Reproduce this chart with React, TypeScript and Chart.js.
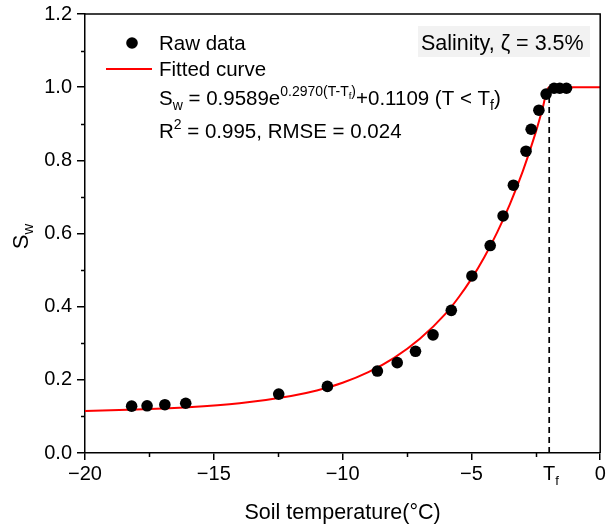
import React, { useEffect, useRef } from 'react';
import { Chart, registerables } from 'chart.js';
Chart.register(...registerables);

const FONT = '"Liberation Sans", Arial, Helvetica, sans-serif';

// Raw data (soil temperature °C, S_w)
const rawTemp = [-18.19, -17.59, -16.9, -16.09, -12.48, -10.59, -8.65, -7.88, -7.17, -6.49, -5.78, -4.98, -4.27, -3.77, -3.37, -2.88, -2.68, -2.38, -2.1, -1.79, -1.57, -1.31];
const rawSw = [0.128, 0.129, 0.132, 0.136, 0.161, 0.182, 0.224, 0.247, 0.278, 0.323, 0.39, 0.484, 0.567, 0.648, 0.732, 0.825, 0.885, 0.937, 0.981, 0.997, 0.997, 0.997];

// Fitted curve
const fitTemp = [-20, -18, -16, -14, -12, -11, -10, -9, -8, -7, -6, -5.5, -5, -4.5, -4, -3.5, -3, -2.5, -2.25, -2.0, -1.5, 0];
const fitSw = [0.115, 0.119, 0.125, 0.136, 0.156, 0.171, 0.192, 0.221, 0.26, 0.312, 0.381, 0.425, 0.476, 0.535, 0.603, 0.681, 0.771, 0.877, 0.938, 1.0, 1.0, 1.0];

const TF = -1.98;
const TF_TOP = 1.0;

const xMajor = [-20, -15, -10, -5, 0];
const xMinor = [-17.5, -12.5, -7.5, -2.5];
const yMajor = [0, 0.2, 0.4, 0.6, 0.8, 1.0, 1.2];
const yMinor = [0.1, 0.3, 0.5, 0.7, 0.9, 1.1];

const xTitle = 'Soil temperature(°C)';
const legendRaw = 'Raw data';
const legendFit = 'Fitted curve';
const salinityText = 'Salinity, ζ = 3.5%';

type Part = { t: string; size: number; dy: number };

function richWidth(ctx: CanvasRenderingContext2D, parts: Part[]) {
  let w = 0;
  for (const p of parts) {
    ctx.font = `${p.size}px ${FONT}`;
    w += ctx.measureText(p.t).width;
  }
  return w;
}

function drawRich(ctx: CanvasRenderingContext2D, parts: Part[], x: number, baseY: number) {
  let cx = x;
  ctx.textBaseline = 'alphabetic';
  ctx.textAlign = 'left';
  for (const p of parts) {
    ctx.font = `${p.size}px ${FONT}`;
    ctx.fillText(p.t, cx, baseY + p.dy);
    cx += ctx.measureText(p.t).width;
  }
  return cx;
}

const decorPlugin = {
  id: 'decor',
  afterDraw(chart: any) {
    const { ctx, chartArea: a, scales } = chart;
    const x = scales.x;
    const y = scales.y;
    ctx.save();
    ctx.strokeStyle = '#000';
    ctx.fillStyle = '#000';
    ctx.lineWidth = 1.5;
    // frame top & right
    ctx.beginPath();
    ctx.moveTo(a.left, a.top);
    ctx.lineTo(a.right, a.top);
    ctx.lineTo(a.right, a.bottom);
    ctx.stroke();
    // minor ticks
    ctx.beginPath();
    for (const v of xMinor) {
      const px = Math.round(x.getPixelForValue(v)) + 0.5;
      ctx.moveTo(px, a.bottom);
      ctx.lineTo(px, a.bottom + 4);
    }
    for (const v of yMinor) {
      const py = Math.round(y.getPixelForValue(v)) + 0.5;
      ctx.moveTo(a.left, py);
      ctx.lineTo(a.left - 4, py);
    }
    ctx.stroke();

    // T_f tick label
    const tfx = x.getPixelForValue(TF);
    const tfParts: Part[] = [
      { t: 'T', size: 20, dy: 0 },
      { t: 'f', size: 13, dy: 5 },
    ];
    const tw = richWidth(ctx, [tfParts[0]]);
    drawRich(ctx, tfParts, tfx - tw / 2, a.bottom + 27);

    // y title S_w
    ctx.save();
    ctx.translate(20, (a.top + a.bottom) / 2 + 3);
    ctx.rotate(-Math.PI / 2);
    const yt: Part[] = [
      { t: 'S', size: 22, dy: 0 },
      { t: 'w', size: 15, dy: 5 },
    ];
    const yw = richWidth(ctx, yt);
    drawRich(ctx, yt, -yw / 2, 8);
    ctx.restore();

    // legend
    ctx.beginPath();
    ctx.arc(132, 43, 5.8, 0, Math.PI * 2);
    ctx.fill();
    drawRich(ctx, [{ t: legendRaw, size: 20.5, dy: 0 }], 159, 43 + 7);
    ctx.strokeStyle = '#ff0000';
    ctx.lineWidth = 2;
    ctx.beginPath();
    ctx.moveTo(106, 69);
    ctx.lineTo(152, 69);
    ctx.stroke();
    drawRich(ctx, [{ t: legendFit, size: 20.5, dy: 0 }], 159, 69 + 7);

    const eq: Part[] = [
      { t: 'S', size: 20.5, dy: 0 },
      { t: 'w', size: 14, dy: 5 },
      { t: ' = 0.9589e', size: 20.5, dy: 0 },
      { t: '0.2970(T-T', size: 14, dy: -9 },
      { t: 'f', size: 9.5, dy: -6 },
      { t: ')', size: 14, dy: -9 },
      { t: '+0.1109 (T < T', size: 20.5, dy: 0 },
      { t: 'f', size: 14, dy: 5 },
      { t: ')', size: 20.5, dy: 0 },
    ];
    drawRich(ctx, eq, 159, 98 + 7);

    const r2: Part[] = [
      { t: 'R', size: 20.5, dy: 0 },
      { t: '2', size: 14, dy: -9 },
      { t: ' = 0.995, RMSE = 0.024', size: 20.5, dy: 0 },
    ];
    drawRich(ctx, r2, 159, 131 + 7);

    // salinity box
    ctx.fillStyle = '#f2f2f2';
    ctx.fillRect(418, 26, 172, 31);
    ctx.fillStyle = '#000';
    drawRich(ctx, [{ t: salinityText, size: 21.5, dy: 0 }], 421, 42 + 8);

    ctx.restore();
  },
};

export default function App() {
  const ref = useRef<HTMLCanvasElement>(null);
  useEffect(() => {
    const canvas = ref.current!;
    const chart = new Chart(canvas, {
      type: 'scatter',
      data: {
        datasets: [
          {
            label: legendRaw,
            data: rawTemp.map((t, i) => ({ x: t, y: rawSw[i] })),
            backgroundColor: '#000',
            borderColor: '#000',
            pointRadius: 5.8,
            pointBorderWidth: 0,
            showLine: false,
          },
          {
            label: 'Tf',
            data: [
              { x: TF, y: 0 },
              { x: TF, y: TF_TOP },
            ],
            showLine: true,
            borderColor: '#000',
            borderWidth: 1.7,
            borderDash: [6, 4],
            pointRadius: 0,
          },
          {
            label: legendFit,
            data: fitTemp.map((t, i) => ({ x: t, y: fitSw[i] })),
            showLine: true,
            borderColor: '#ff0000',
            borderWidth: 2,
            pointRadius: 0,
            cubicInterpolationMode: 'monotone',
          },
        ],
      } as any,
      options: {
        animation: false,
        responsive: false,
        maintainAspectRatio: false,
        layout: { padding: { top: 14, right: 3, left: 0, bottom: 0 } },
        plugins: { legend: { display: false }, tooltip: { enabled: false } },
        scales: {
          x: {
            type: 'linear',
            min: -20,
            max: 0,
            afterBuildTicks: (s: any) => {
              s.ticks = [...xMajor, TF].map((v) => ({ value: v }));
            },
            afterFit: (s: any) => {
              s.height = 75;
              s.paddingLeft = 0;
              s.paddingRight = 0;
            },
            ticks: {
              autoSkip: false,
              maxRotation: 0,
              padding: 2,
              color: '#000',
              font: { family: FONT, size: 20 },
              callback: (v: any) => {
                const n = Number(v);
                if (Math.abs(n - TF) < 1e-6) return '';
                return n < 0 ? '\u2212' + Math.abs(n) : String(n);
              },
            },
            grid: {
              drawOnChartArea: false,
              tickLength: 7,
              lineWidth: 1.5,
              tickColor: (c: any) => (c.tick && Math.abs(c.tick.value - TF) < 1e-6 ? 'rgba(0,0,0,0)' : '#000'),
              color: '#000',
            },
            border: { color: '#000', width: 1.5 },
            title: {
              display: true,
              text: xTitle,
              color: '#000',
              font: { family: FONT, size: 21.5 },
              padding: { top: 0, bottom: 2 },
            },
          },
          y: {
            type: 'linear',
            min: 0,
            max: 1.2,
            afterBuildTicks: (s: any) => {
              s.ticks = yMajor.map((v) => ({ value: v }));
            },
            afterFit: (s: any) => {
              s.width = 85;
              s.paddingTop = 0;
              s.paddingBottom = 0;
            },
            ticks: {
              padding: 5,
              color: '#000',
              font: { family: FONT, size: 20 },
              callback: (v: any) => Number(v).toFixed(1),
            },
            grid: {
              drawOnChartArea: false,
              tickLength: 8,
              lineWidth: 1.5,
              color: '#000',
            },
            border: { color: '#000', width: 1.5 },
          },
        },
      } as any,
      plugins: [decorPlugin],
    });
    return () => chart.destroy();
  }, []);
  return (
    <div style={{ position: 'absolute', left: 0, top: 0, width: 606, height: 528, background: '#fff' }}>
      <canvas ref={ref} width={606} height={528} style={{ display: 'block', width: 606, height: 528 }} />
    </div>
  );
}
